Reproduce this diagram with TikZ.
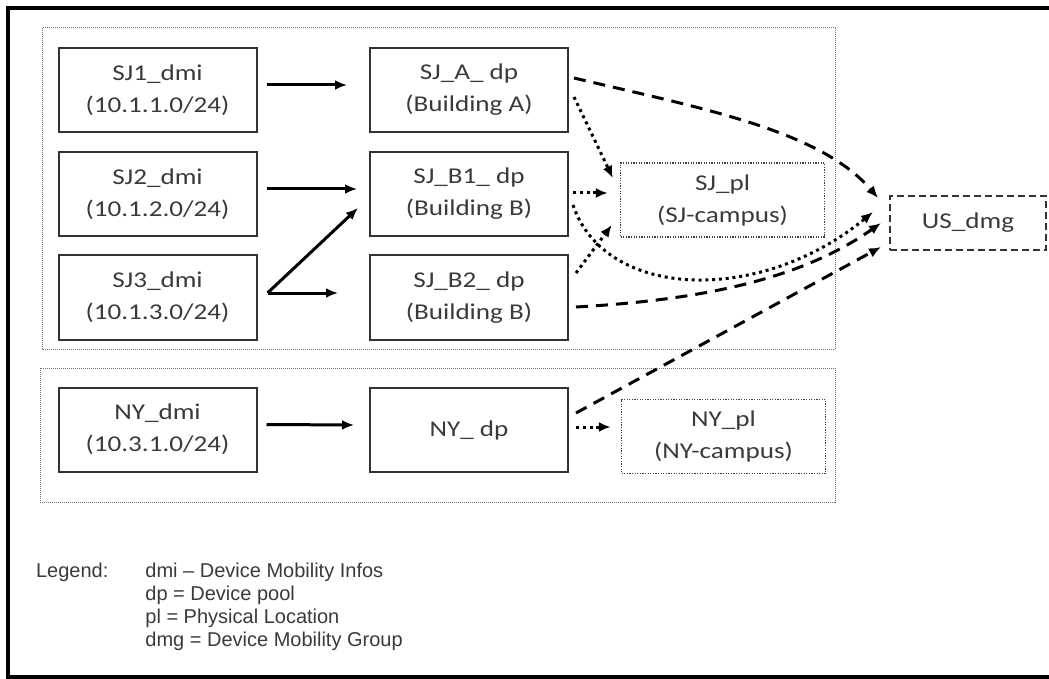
\documentclass[tikz,border=0pt]{standalone}
\usepackage{fontspec}
\setmainfont{Carlito}
\newfontfamily\boxfont[FakeStretch=1.2]{Carlito}
\newfontfamily\legendfont[Ligatures=TeX]{Liberation Sans}
\usetikzlibrary{arrows.meta}
\definecolor{txtgray}{HTML}{3A3A3A}

\begin{document}
\begin{tikzpicture}[x=0.5pt, y=-0.5pt,
    box_node/.style={draw=black!80, line width=1pt, minimum width=99pt, minimum height=42pt, inner sep=0pt, align=center, text=txtgray, font=\boxfont\fontsize{11.3}{16}\selectfont},
    pl_node/.style={box_node, draw=black!75, line width=0.7pt, dash pattern=on 0.6pt off 0.7pt, minimum width=102pt, minimum height=37pt},
    dmg_node/.style={box_node, dash pattern=on 3.5pt off 2pt, minimum width=78pt, minimum height=27pt},
    group_box/.style={draw=black!55, line width=0.5pt, dash pattern=on 0.5pt off 0.5pt},
    solid_arrow/.style={line width=1.5pt, -{Latex[length=6pt,width=5pt]}},
    dashed_arrow/.style={solid_arrow, dash pattern=on 6pt off 4pt},
    dotted_arrow/.style={solid_arrow, dash pattern=on 1.5pt off 1.9pt}]

    \useasboundingbox (0,0) rectangle (1049,679);
    \draw[line width=2pt] (1049,677) -- (8,677) -- (8,8) -- (1049,8);

    % groups
    \draw[group_box] (42,28) rectangle (835,349);
    \draw[group_box] (40,368) rectangle (835,502);

    \node[box_node] (sj1) at (157.5, 90) {SJ1\_dmi\\(10.1.1.0/24)};
    \node[box_node] (sj2) at (157.5, 194) {SJ2\_dmi\\(10.1.2.0/24)};
    \node[box_node] (sj3) at (157.5, 297.5) {SJ3\_dmi\\(10.1.3.0/24)};
    \node[box_node] (ny) at (157.5, 429.5) {NY\_dmi\\(10.3.1.0/24)};
    \node[box_node] (sja) at (469, 90) {SJ\_A\_ dp\\(Building A)};
    \node[box_node] (sjb1) at (469, 194) {SJ\_B1\_ dp\\(Building B)};
    \node[box_node] (sjb2) at (469, 297.5) {SJ\_B2\_ dp\\(Building B)};
    \node[box_node] (nydp) at (469, 430) {NY\_ dp};
    \node[pl_node] (sjpl) at (722.5, 200) {SJ\_pl\\(SJ-campus)};
    \node[pl_node] (nypl) at (723.5, 436.5) {NY\_pl\\(NY-campus)};
    \node[dmg_node] (us) at (968, 223) {US\_dmg};

    \draw[solid_arrow] ([shift={(9,-5)}]sj1.east) -- ([shift={(-22,-5)}]sja.west);
    \draw[solid_arrow] ([shift={(9,-5)}]sj2.east) -- ([shift={(-12,-5)}]sjb1.west);
    \draw[solid_arrow] ([shift={(10,-4.5)}]sj3.east) -- ([shift={(-11,14)}]sjb1.west);
    \draw[solid_arrow] ([shift={(10,-4.5)}]sj3.east) -- ([shift={(-31,-4.5)}]sjb2.west);
    \draw[solid_arrow] ([shift={(9,-5)}]ny.east) -- ([shift={(-15,-5)}]nydp.west);

    \draw[dotted_arrow] ([shift={(5,7)}]sja.east) -- ([shift={(-7,-22)}]sjpl.west);
    \draw[dotted_arrow] ([shift={(4,-1)}]sjb1.east) -- ([shift={(-12,-7)}]sjpl.west);
    \draw[dotted_arrow] ([shift={(7,-24.5)}]sjb2.east) -- ([shift={(-8,25)}]sjpl.west);
    \draw[dotted_arrow] ([shift={(7,-3)}]nydp.east) -- ([shift={(-10,-9.5)}]nypl.west);
    \draw[dotted_arrow] ([shift={(4,11)}]sjb1.east) .. controls (605,300) and (760,305) .. ([shift={(-16,-11)}]us.west);

    \draw[dashed_arrow] ([shift={(5,-12)}]sja.east) .. controls (700,108) and (820,130) .. ([shift={(-11,-25)}]us.west);
    \draw[dashed_arrow] ([shift={(7,9.5)}]sjb2.east) .. controls (700,300) and (800,280) .. ([shift={(-8,0)}]us.west);
    \draw[dashed_arrow] ([shift={(7,-17)}]nydp.east) -- ([shift={(-8,24)}]us.west);

    % legend
    \node[anchor=west, text=txtgray, font=\legendfont\fontsize{10}{11.4}\selectfont] (leg) at (29, 572) {Legend:};
    \node[anchor=north west, align=left, inner sep=0pt, text=txtgray, font=\legendfont\fontsize{10}{11.4}\selectfont] (legtext) at (145, 563) {dmi -- Device Mobility Infos\\dp = Device pool\\pl = Physical Location\\dmg = Device Mobility Group};

\end{tikzpicture}
\end{document}
